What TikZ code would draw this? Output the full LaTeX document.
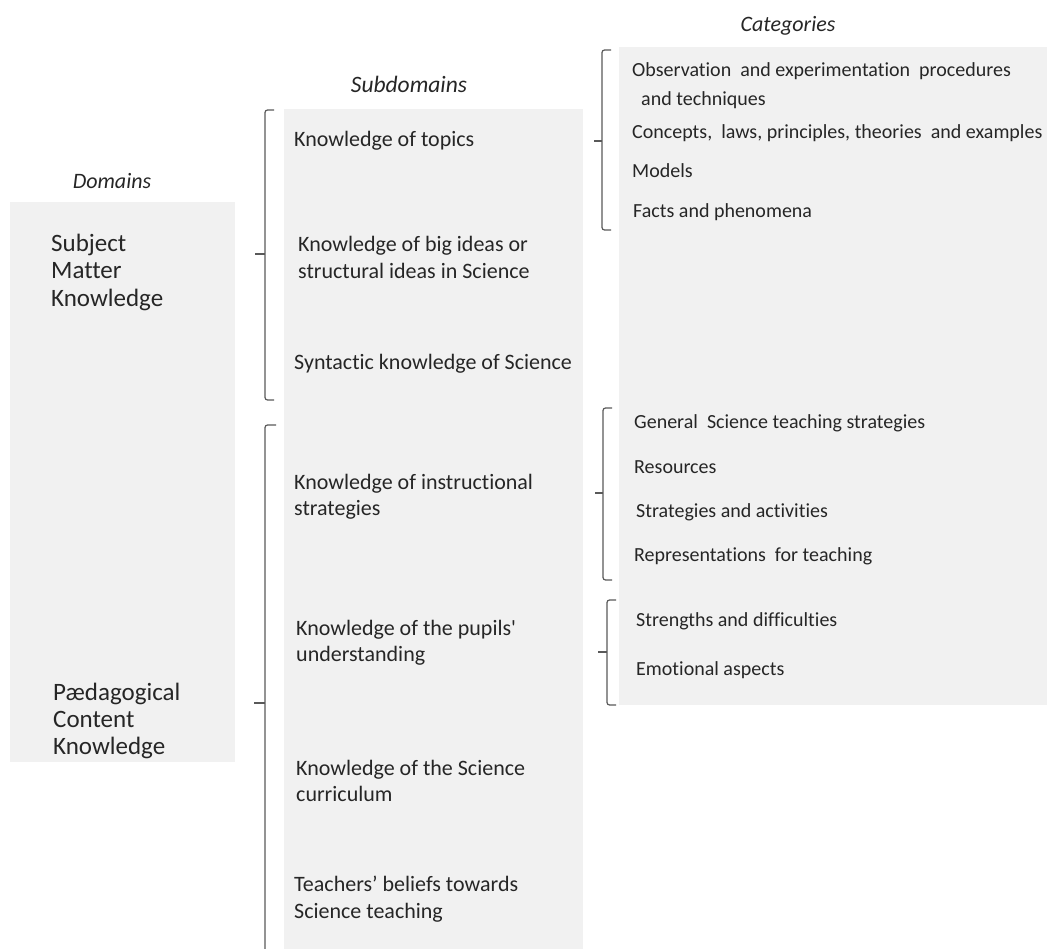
\documentclass[tikz,border=0pt]{standalone}
\usepackage{fontspec}
\setmainfont{Carlito}[Ligatures={NoCommon,TeXOff}]
\begin{document}
\begin{tikzpicture}[x=1pt,y=-1pt,
  boxfill/.style={fill=black!5.5, draw=none},
  txt/.style={anchor=west, inner sep=0pt, align=left, text=black!85,
    font=\fontsize{22}{26.5}\selectfont},
  cat/.style={anchor=west, inner sep=0pt, align=left, text=black!85,
    font=\fontsize{20}{29}\selectfont},
  head/.style={inner sep=0pt, text=black!85, font=\fontsize{22}{24}\selectfont\itshape},
  brk/.style={draw=black!65, line width=1.2pt, rounded corners=2.5pt},
]
\useasboundingbox (0,0) rectangle (1047,949);
% background boxes
\path[boxfill] (10,202) rectangle (235,762);
\path[boxfill] (284,109) rectangle (583,949);
\path[boxfill] (619,47) rectangle (1047,705);
% headers
\node[head] (hdom) at (112,181) {Domains};
\node[head, font=\fontsize{23.5}{25}\selectfont\itshape] (hsub) at (409,84) {Subdomains};
\node[head] (hcat) at (788,26) {Categories};
% domains
\node[txt, font=\fontsize{25}{27.5}\selectfont] (smk) at (51,272) {Subject\\Matter\\Knowledge};
\node[txt, font=\fontsize{25}{27}\selectfont] (pck) at (53,721) {Pædagogical\\Content\\Knowledge};
% subdomains
\node[txt] (s1) at (294,141) {Knowledge of topics};
\node[txt] (s2) at (298,257.5) {Knowledge of big ideas or\\structural ideas in Science};
\node[txt] (s3) at (294,364) {Syntactic knowledge of Science};
\node[txt] (s4) at (294,497) {Knowledge of instructional\\strategies};
\node[txt] (s5) at (296,643) {Knowledge of the pupils'\\understanding};
\node[txt] (s6) at (296,781) {Knowledge of the Science\\curriculum};
\node[txt] (s7) at (294,899) {Teachers’ beliefs towards\\Science teaching};
% categories
\node[cat] (c1) at (632,85.5) {Observation \ and experimentation \ procedures\\\ \ and techniques};
\node[cat] (c2) at (632,133) {Concepts, \ laws, principles, theories \ and examples};
\node[cat] (c3) at (632,171) {Models};
\node[cat] (c4) at (633,212) {Facts and phenomena};
\node[cat] (c5) at (634,423) {General \ Science teaching strategies};
\node[cat] (c6) at (634,467) {Resources};
\node[cat] (c7) at (636,512) {Strategies and activities};
\node[cat] (c8) at (634,556) {Representations \ for teaching};
\node[cat] (c9) at (636,621) {Strengths and difficulties};
\node[cat] (c10) at (636,670) {Emotional aspects};
% bracket coordinates
\coordinate (b1t) at (274,110); \coordinate (b1b) at (274,400); \coordinate (b1m) at (255,254);
\coordinate (b2t) at (276,425); \coordinate (b2b) at (276,949); \coordinate (b2m) at (254,703);
\coordinate (b3t) at (611,50);  \coordinate (b3b) at (611,230); \coordinate (b3m) at (594,141);
\coordinate (b4t) at (612,408); \coordinate (b4b) at (612,580); \coordinate (b4m) at (595,493);
\coordinate (b5t) at (616,600); \coordinate (b5b) at (616,705); \coordinate (b5m) at (598,652);
% brackets
\draw[brk] (b1t) -- ++(-9,0) |- (b1b);
\draw[brk] (b1m) -- ++(10,0);
\draw[brk] (b2t) -- ++(-11,0) -- ++(0,524);
\draw[brk] (b2m) -- ++(11,0);
\draw[brk] (b3t) -- ++(-9,0) |- (b3b);
\draw[brk] (b3m) -- ++(8,0);
\draw[brk] (b4t) -- ++(-9,0) |- (b4b);
\draw[brk] (b4m) -- ++(8,0);
\draw[brk] (b5t) -- ++(-9,0) |- (b5b);
\draw[brk] (b5m) -- ++(9,0);
\end{tikzpicture}
\end{document}
